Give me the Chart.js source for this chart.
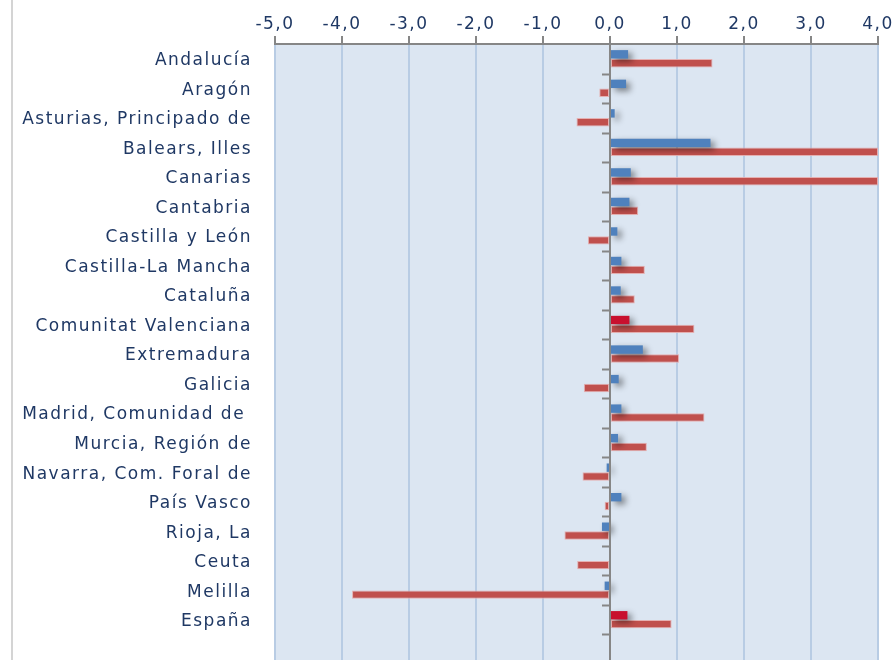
<!DOCTYPE html>
<html>
<head>
<meta charset="utf-8">
<script src="https://cdn.jsdelivr.net/npm/chart.js@4.4.0/dist/chart.umd.min.js"></script>
<style>
  html, body { margin:0; padding:0; background:#fff; overflow:hidden; }
  #wrap { position:relative; width:895px; height:660px; }
  #marco { position:absolute; left:11px; top:0; width:2px; height:660px; background:#d4d4d4; }
  canvas { position:absolute; left:0; top:0; }
</style>
</head>
<body>
<div id="wrap">
  <canvas id="barCanvas" width="895" height="664"></canvas>
  <div id="marco"></div>
</div>
<script>
// categorias (la ultima vacia, como en el original)
const categorias = ["Andalucía", "Aragón", "Asturias, Principado de", "Balears, Illes", "Canarias",
  "Cantabria", "Castilla y León", "Castilla-La Mancha", "Cataluña", "Comunitat Valenciana",
  "Extremadura", "Galicia", "Madrid, Comunidad de ", "Murcia, Región de", "Navarra, Com. Foral de",
  "País Vasco", "Rioja, La", "Ceuta", "Melilla", "España", ""];

// serie azul (arriba) y serie roja (abajo)
const serieAzul = [0.27, 0.24, 0.07, 1.50, 0.31, 0.29, 0.11, 0.17, 0.16, 0.29, 0.49, 0.13, 0.17, 0.12, -0.05, 0.17, -0.12, 0, -0.08, 0.26, null];
const serieRoja = [1.53, -0.16, -0.50, 4.0, 4.0, 0.42, -0.33, 0.52, 0.37, 1.26, 1.03, -0.39, 1.41, 0.55, -0.41, -0.08, -0.68, -0.49, -3.85, 0.92, null];

const ticksX = [-5, -4, -3, -2, -1, 0, 1, 2, 3, 4];

const azul = "#4f81bd";
const granate = "#c8102e";
const rojo = "#c0504d";
// Comunitat Valenciana y España van en otro color
const coloresAzul = categorias.map(c => (c === "Comunitat Valenciana" || c === "España") ? granate : azul);

const navy = "#1f3864";
const espaciado = "1.5px";

// fondo del area de trazado + marcas en el eje del cero
const fondoPlugin = {
  id: "fondo",
  beforeLayout(chart) { chart.ctx.letterSpacing = espaciado; },
  beforeDraw(chart) {
    const a = chart.chartArea, ctx = chart.ctx;
    ctx.letterSpacing = espaciado;
    ctx.save();
    ctx.fillStyle = "#dce6f2";
    ctx.fillRect(a.left, a.top, a.right - a.left, a.bottom - a.top);
    ctx.restore();
  },
  beforeDatasetDraw(chart, args) {
    if (args.index === 0) {
      const ctx = chart.ctx;
      ctx.save();
      ctx.shadowColor = "rgba(0,0,0,0.45)";
      ctx.shadowBlur = 6;
      ctx.shadowOffsetX = 4;
      ctx.shadowOffsetY = 3;
    }
  },
  afterDatasetDraw(chart, args) {
    if (args.index === 0) chart.ctx.restore();
  },
  afterDatasetsDraw(chart) {
    const ctx = chart.ctx, x = chart.scales.x, y = chart.scales.y;
    const x0 = x.getPixelForValue(0);
    const paso = (y.bottom - y.top) / categorias.length;
    ctx.save();
    ctx.strokeStyle = "#868686";
    ctx.lineWidth = 2;
    ctx.beginPath();
    ctx.moveTo(x0, y.top);
    ctx.lineTo(x0, y.bottom);
    for (let i = 1; i <= categorias.length; i++) {
      const yy = Math.round(y.top + i * paso) + 0.5;
      ctx.moveTo(x0 - 8, yy);
      ctx.lineTo(x0, yy);
    }
    ctx.stroke();
    ctx.restore();
  }
};

const barChart = new Chart(document.getElementById("barCanvas"), {
  type: "bar",
  data: {
    labels: categorias,
    datasets: [
      {
        label: "serie 1",
        data: serieAzul,
        backgroundColor: coloresAzul,
        borderWidth: 0,
        categoryPercentage: 0.6,
        barPercentage: 0.95
      },
      {
        label: "serie 2",
        data: serieRoja,
        backgroundColor: rojo,
        borderColor: "rgba(230,170,170,0.9)",
        borderWidth: 1,
        borderSkipped: false,
        categoryPercentage: 0.6,
        barPercentage: 0.95
      }
    ]
  },
  options: {
    indexAxis: "y",
    responsive: false,
    animation: false,
    devicePixelRatio: 1,
    layout: { padding: { left: 0, right: 17, top: 0, bottom: 0 } },
    plugins: { legend: { display: false }, tooltip: { enabled: false } },
    scales: {
      x: {
        position: "top",
        min: -5,
        max: 4,
        afterBuildTicks(s) { s.ticks = ticksX.map(v => ({ value: v })); },
        afterFit(s) { s.height = 44; s.paddingLeft = 0; s.paddingRight = 0; },
        grid: {
          color: c => c.tick && c.tick.value === 0 ? "#868686" : "#b8cce4",
          lineWidth: 2,
          tickColor: "#868686",
          tickLength: 8,
          tickWidth: 2
        },
        border: { color: "#868686", width: 2 },
        ticks: {
          color: navy,
          padding: 1,
          maxRotation: 0,
          font: { family: "'DejaVu Sans'", size: 17 },
          callback: v => v.toFixed(1).replace(".", ",")
        }
      },
      y: {
        afterFit(s) { s.width = 275; s.paddingTop = 0; s.paddingBottom = 0; },
        grid: { display: false, drawTicks: false },
        border: { display: false },
        ticks: {
          color: navy,
          padding: 23,
          labelOffset: 2,
          autoSkip: false,
          font: { family: "'DejaVu Sans'", size: 17 }
        }
      }
    }
  },
  plugins: [fondoPlugin]
});
</script>
</body>
</html>
